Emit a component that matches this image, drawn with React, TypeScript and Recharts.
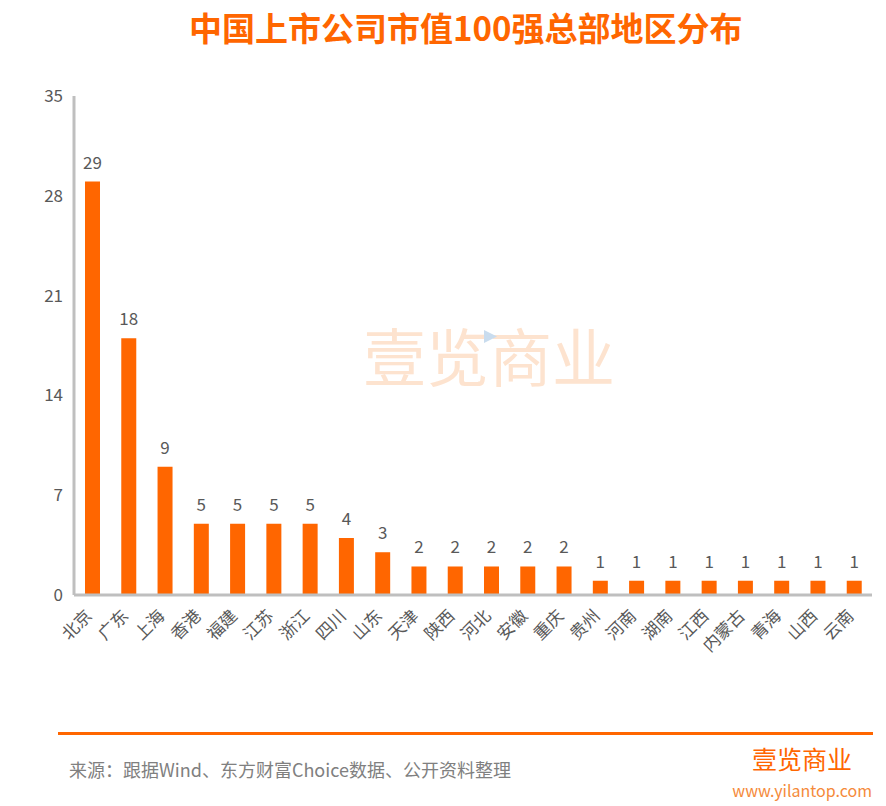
import React from "react";
import { BarChart, Bar, XAxis, YAxis, LabelList } from "recharts";

const regions = [
  "北京", "广东", "上海", "香港", "福建", "江苏", "浙江", "四川", "山东", "天津", "陕西",
  "河北", "安徽", "重庆", "贵州", "河南", "湖南", "江西", "内蒙古", "青海", "山西", "云南",
];
const counts = [29, 18, 9, 5, 5, 5, 5, 4, 3, 2, 2, 2, 2, 2, 1, 1, 1, 1, 1, 1, 1, 1];
const yTicks = [0, 7, 14, 21, 28, 35];

const FONT = '"Noto Sans CJK SC", "Noto Sans", sans-serif';
const ORANGE = "#FF6600";
const AXIS_GRAY = "#BFBFBF";
const TEXT_GRAY = "#595959";

const data = regions.map((name, i) => ({ name, count: counts[i] }));

function RegionTick(props: any) {
  const { x, y, payload } = props;
  const ax = x + 1;
  const ay = y + 14;
  return (
    <text
      x={ax}
      y={ay}
      textAnchor="end"
      fill={TEXT_GRAY}
      fontSize={17}
      fontFamily={FONT}
      transform={`rotate(-45, ${ax}, ${ay})`}
    >
      {payload.value}
    </text>
  );
}

export default function App() {
  return (
    <div
      style={{
        position: "absolute",
        left: 0,
        top: 0,
        width: 886,
        height: 806,
        background: "#fff",
        fontFamily: FONT,
        overflow: "hidden",
      }}
    >
      <div
        style={{
          position: "absolute",
          left: 189,
          top: 8,
          fontSize: 33,
          lineHeight: "38px",
          fontWeight: 700,
          color: ORANGE,
          whiteSpace: "nowrap",
        }}
      >
        中国上市公司市值100强总部地区分布
      </div>

      {/* watermark */}
      <div
        style={{
          position: "absolute",
          left: 363,
          top: 314,
          fontSize: 63,
          lineHeight: "80px",
          color: "#FDE3CF",
          whiteSpace: "nowrap",
        }}
      >
        壹览商业
      </div>
      <svg style={{ position: "absolute", left: 483, top: 329 }} width={16} height={16}>
        <polygon points="1,1 14,7.5 1,14" fill="#C9DCEE" />
      </svg>

      <div style={{ position: "absolute", left: 0, top: 0 }}>
        <BarChart
          width={886}
          height={720}
          data={data}
          margin={{ top: 96, right: 14, bottom: 0, left: 0 }}
        >
          <XAxis
            dataKey="name"
            interval={0}
            height={125}
            tickLine={false}
            axisLine={{ stroke: AXIS_GRAY, strokeWidth: 3 }}
            tick={<RegionTick />}
          />
          <YAxis
            width={74}
            domain={[0, 35]}
            ticks={yTicks}
            tickLine={false}
            tickMargin={5}
            axisLine={{ stroke: AXIS_GRAY, strokeWidth: 3 }}
            tick={{ fontSize: 17, fill: TEXT_GRAY, fontFamily: FONT }}
          />
          <Bar dataKey="count" fill={ORANGE} barSize={15} isAnimationActive={false}>
            <LabelList
              dataKey="count"
              position="top"
              offset={13}
              fill={TEXT_GRAY}
              fontSize={17}
              fontFamily={FONT}
            />
          </Bar>
        </BarChart>
      </div>

      <div
        style={{
          position: "absolute",
          left: 58,
          top: 732,
          width: 815,
          height: 3,
          background: ORANGE,
        }}
      />
      <div
        style={{
          position: "absolute",
          left: 69,
          top: 758,
          fontSize: 18,
          lineHeight: "22px",
          color: "#808080",
          whiteSpace: "nowrap",
        }}
      >
        来源：跟据Wind、东方财富Choice数据、公开资料整理
      </div>
      <div
        style={{
          position: "absolute",
          left: 752,
          top: 742,
          fontSize: 25,
          lineHeight: "32px",
          color: ORANGE,
          whiteSpace: "nowrap",
        }}
      >
        壹览商业
      </div>
      <div
        style={{
          position: "absolute",
          right: 14,
          top: 780,
          fontSize: 16,
          lineHeight: "20px",
          color: "#F58A3A",
          whiteSpace: "nowrap",
        }}
      >
        www.yilantop.com
      </div>
    </div>
  );
}
